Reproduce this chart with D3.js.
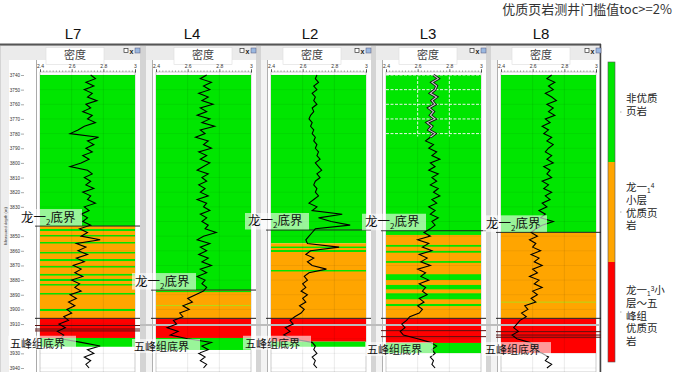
<!DOCTYPE html>
<html><head><meta charset="utf-8">
<script src="https://cdn.jsdelivr.net/npm/d3@7"></script>
<style>body{margin:0;background:#fff}svg{display:block}</style>
</head><body>
<svg id="c" width="676" height="372"></svg>
<script>
// ---------------- DATA ----------------
const titleText = "优质页岩测井门槛值toc>=2%";
const wells = ["L7", "L4", "L2", "L3", "L8"];
const curveName = "密度";
const depthTicks = d3.range(3740, 3941, 10);
const hiddenDepthLabels = [3840, 3920]; // covered by marker labels in the reference
const densityTicks = [2.4, 2.6, 2.8, 3.0];
const sampleDepths = d3.range(3740, 3940.01, 2.5);

const densL7 = [2.72,2.75,2.69,2.74,2.68,2.73,2.70,2.76,2.69,2.72,
  2.67,2.73,2.70,2.75,2.68,2.64,2.59,2.77,2.70,2.74,
  2.69,2.73,2.67,2.71,2.66,2.59,2.70,2.73,2.68,2.72,
  2.69,2.74,2.67,2.72,2.70,2.75,2.68,2.71,2.66,2.70,
  2.67,2.72,2.65,2.70,2.66,2.78,2.63,2.69,2.64,2.70,
  2.63,2.68,2.61,2.66,2.62,2.67,2.60,2.65,2.62,2.66,
  2.59,2.63,2.58,2.62,2.57,2.60,2.55,2.58,2.52,2.56,
  2.51,2.55,2.53,2.66,2.78,2.70,2.74,2.68,2.72,2.69,2.71];
const densL4 = [2.72,2.68,2.75,2.70,2.74,2.67,2.73,2.69,2.76,2.68,
  2.72,2.66,2.74,2.69,2.77,2.68,2.71,2.65,2.73,2.70,
  2.75,2.67,2.72,2.68,2.74,2.70,2.66,2.73,2.69,2.72,
  2.67,2.71,2.68,2.73,2.66,2.72,2.70,2.74,2.68,2.72,
  2.69,2.73,2.71,2.78,2.70,2.66,2.74,2.68,2.72,2.67,
  2.73,2.69,2.75,2.68,2.72,2.66,2.71,2.69,2.72,2.70,
  2.65,2.60,2.63,2.57,2.61,2.55,2.57,2.51,2.53,2.47,
  2.54,2.49,2.60,2.75,2.69,2.73,2.67,2.71,2.68,2.72,2.70];
const densL2 = [2.69,2.68,2.70,2.67,2.69,2.66,2.68,2.67,2.69,2.66,
  2.67,2.65,2.64,2.66,2.65,2.67,2.66,2.68,2.67,2.69,
  2.68,2.70,2.69,2.71,2.68,2.70,2.72,2.69,2.71,2.68,
  2.67,2.69,2.68,2.70,2.67,2.64,2.69,2.66,2.85,2.70,
  2.78,2.90,2.68,2.66,2.64,2.62,2.63,2.83,2.65,2.62,
  2.67,2.63,2.66,2.75,2.64,2.61,2.63,2.60,2.62,2.59,
  2.63,2.60,2.62,2.58,2.61,2.59,2.55,2.52,2.54,2.49,
  2.52,2.48,2.53,2.66,2.68,2.67,2.69,2.66,2.68,2.67,2.69];
const densL3 = [2.70,2.73,2.69,2.72,2.71,2.68,2.72,2.69,2.71,2.67,
  2.70,2.68,2.71,2.66,2.69,2.67,2.71,2.68,2.65,2.70,
  2.67,2.72,2.69,2.74,2.68,2.71,2.67,2.73,2.69,2.72,
  2.68,2.73,2.70,2.74,2.69,2.72,2.67,2.71,2.68,2.73,
  2.69,2.71,2.68,2.64,2.68,2.60,2.67,2.63,2.69,2.61,
  2.66,2.62,2.68,2.60,2.65,2.62,2.67,2.61,2.65,2.63,
  2.66,2.61,2.64,2.60,2.63,2.61,2.55,2.53,2.50,2.52,
  2.49,2.51,2.60,2.68,2.72,2.69,2.71,2.68,2.70,2.69,2.71];
const densL8 = [2.72,2.69,2.74,2.70,2.73,2.68,2.72,2.75,2.69,2.73,
  2.70,2.74,2.68,2.71,2.66,2.70,2.67,2.72,2.69,2.73,
  2.70,2.68,2.72,2.69,2.73,2.67,2.71,2.69,2.72,2.66,
  2.70,2.67,2.72,2.68,2.71,2.66,2.69,2.64,2.68,2.65,
  2.73,2.66,2.62,2.59,2.63,2.58,2.62,2.60,2.65,2.59,
  2.64,2.61,2.66,2.60,2.63,2.58,2.64,2.61,2.66,2.60,
  2.63,2.59,2.62,2.55,2.57,2.53,2.56,2.52,2.50,2.48,
  2.51,2.47,2.50,2.58,2.62,2.60,2.66,2.70,2.68,2.72,2.69];

// lithology intervals [top depth, bottom depth, class]
const bandsL7 = [[3740,3843.1,"g"],[3843.1,3906.1,"o"],
  [3845.1,3846.5,"g"],[3849.2,3850.2,"g"],[3854.0,3855.0,"g"],[3860.8,3861.8,"g"],[3865.6,3867.0,"g"],
  [3870.4,3871.4,"g"],[3875.8,3876.9,"g"],[3879.2,3880.6,"g"],[3882.7,3883.7,"g"],[3888.8,3889.8,"g"],[3899.7,3901.1,"g"],
  [3906.1,3919.5,"r"],[3919.5,3925.5,"g"]];
const bandsL4 = [[3740,3886.8,"g"],[3886.8,3906.1,"o"],[3887.2,3888.2,"g"],[3897.0,3897.7,"y"],
  [3906.1,3919.5,"r"],[3919.5,3927.7,"g"]];
const bandsL2 = [[3740,3854.9,"g"],[3854.9,3906.1,"o"],[3857.1,3858.1,"g"],[3859.5,3860.8,"g"],[3873.1,3874.1,"g"],
  [3906.1,3922.0,"r"],[3922.0,3925.5,"g"]];
const bandsL3 = [[3740,3849.2,"g"],[3849.2,3906.1,"o"],[3856.0,3857.2,"g"],[3860.1,3861.3,"g"],[3867.0,3868.2,"g"],
  [3876.0,3879.9,"g"],[3883.3,3886.3,"g"],[3889.0,3893.1,"g"],[3896.3,3897.7,"g"],
  [3906.1,3922.9,"r"],[3922.9,3929.8,"g"]];
const bandsL8 = [[3740,3847.4,"g"],[3847.4,3906.1,"o"],[3894.7,3895.3,"y"],[3906.1,3929.8,"r"]];

// boundary lines (depth)
const linesL7 = [3843.1, 3906.1, 3911.0, 3913.4, 3914.7];
const linesL4 = [3886.8, 3906.1];
const linesL2 = [3845.8, 3906.1];
const linesL3 = [3846.3, 3906.1, 3914.5, 3918.6];
const linesL8 = [3847.4, 3906.1, 3915.2, 3917.5, 3919.0];
const greyLineDepth = 3910.6;

// marker depths: 龙一2 base and 五峰组 base
const longBase = [3843.1, 3886.8, 3845.8, 3846.3, 3847.4];
const wufengBase = [3925.5, 3927.7, 3925.5, 3929.8, 3929.8];

const legendClasses = ["g", "o", "r"];
const legendLabels = [
  [[["非优质"]], [["页岩"]]],
  [[["龙一"], ["1","sub"], ["4","sup"]], [["小层"]], [["优质页"]], [["岩"]]],
  [[["龙一"], ["1","sub"], ["3","sup"], ["小"]], [["层～五"]], [["峰组"]], [["优质页"]], [["岩"]]]
];

// ---------------- LAYOUT / STYLE ----------------
const colors = {g:"#00e600", o:"#ffa500", r:"#ff0000", y:"#b5d916"};
const series = [densL7, densL4, densL2, densL3, densL8];
const bands = [bandsL7, bandsL4, bandsL2, bandsL3, bandsL8];
const lines = [linesL7, linesL4, linesL2, linesL3, linesL8];
const trackLeft = [40, 156, 271, 386, 501];
const trackW = 95;
const winR = [[1,140],[146,256],[261,371],[376,486],[491,599]];
const headerCX = [75, 203, 312, 428, 541];
const wellCX = [73, 192, 310, 428, 541];
const longDx = [-22, -24, -26, -24, -18];
const wufengDx = [-32, -24, -28, -21, -18];
const cjk = "'Noto Sans CJK SC','Noto Sans',sans-serif";
const legendFont = "'Liberation Sans','Noto Sans CJK SC',sans-serif";

const svg = d3.select("#c");
const y = d3.scaleLinear().domain([3740, 3940]).range([75, 368]);

// title
svg.append("text").attr("x", 672).attr("y", 14).attr("text-anchor", "end")
  .attr("font-size", 13).attr("font-family", cjk).attr("fill", "#333").text(titleText);

// well names
wells.forEach((w, i) => svg.append("text").attr("x", wellCX[i]).attr("y", 39)
  .attr("text-anchor", "middle").attr("font-size", 15)
  .attr("font-family", "'Liberation Sans Narrow','Liberation Sans',Arial,sans-serif")
  .attr("fill", "#111").text(w));

// frame background
svg.append("rect").attr("x", 0).attr("y", 44).attr("width", 601).attr("height", 328).attr("fill", "#d4d4d4");
svg.append("line").attr("x1", 0).attr("x2", 601).attr("y1", 44.5).attr("y2", 44.5).attr("stroke", "#555").attr("stroke-width", 2);
svg.append("line").attr("x1", 600.5).attr("x2", 600.5).attr("y1", 44).attr("y2", 372).attr("stroke", "#444").attr("stroke-width", 1.5);

const overlay = [];

wells.forEach((w, i) => {
  const g = svg.append("g");
  const L = trackLeft[i], R = L + trackW;
  const [wl, wr] = winR[i];
  const x = d3.scaleLinear().domain([2.4, 3.0]).range([L, R]);

  // window
  g.append("rect").attr("x", wl).attr("y", 46).attr("width", wr - wl).attr("height", 326).attr("fill", "#fff");
  g.append("rect").attr("x", wl).attr("y", 46).attr("width", wr - wl).attr("height", 14).attr("fill", "#ebebeb");
  // left strip (depth track)
  if (i === 0) {
    g.append("rect").attr("x", wl).attr("y", 60).attr("width", 8).attr("height", 312).attr("fill", "#eeeeee");
    g.append("line").attr("x1", 36.5).attr("x2", 36.5).attr("y1", 60).attr("y2", 372).attr("stroke", "#aaa");
  } else {
    g.append("rect").attr("x", wl).attr("y", 60).attr("width", L - 3 - wl).attr("height", 312).attr("fill", "#f3f3f3");
    g.append("line").attr("x1", L - 3.5).attr("x2", L - 3.5).attr("y1", 60).attr("y2", 372).attr("stroke", "#b0b0b0");
  }
  // header tab with curve name
  g.append("rect").attr("x", headerCX[i] - 29).attr("y", 47.5).attr("width", 58).attr("height", 17)
    .attr("fill", "#fff").attr("stroke", "#dcdcdc").attr("stroke-width", 0.6);
  g.append("text").attr("x", headerCX[i]).attr("y", 58.5).attr("text-anchor", "middle")
    .attr("font-size", 11).attr("font-family", cjk).attr("fill", "#444").text(curveName);
  // window icons
  const ix = R - 11;
  g.append("rect").attr("x", ix).attr("y", 48.5).attr("width", 4).attr("height", 4).attr("fill", "#fff").attr("stroke", "#333").attr("stroke-width", 0.7);
  g.append("text").attr("x", ix + 7.5).attr("y", 53.5).attr("text-anchor", "middle").attr("font-size", 7).attr("font-weight", "bold").attr("font-family", "sans-serif").attr("fill", "#222").text("x");
  g.append("rect").attr("x", ix + 11).attr("y", 48).attr("width", 5).attr("height", 5).attr("fill", "#9bb8e0").attr("stroke", "#557").attr("stroke-width", 0.5);

  // scale axis (top)
  const axMinor = d3.axisTop(x).tickValues(d3.range(2.4, 3.001, 0.02)).tickSize(1.5).tickFormat("");
  const am = g.append("g").attr("transform", "translate(0,72)").call(axMinor);
  am.select(".domain").attr("stroke", "#333").attr("stroke-width", 0.8);
  am.selectAll(".tick line").attr("stroke", "#333").attr("stroke-width", 0.5);
  const axMajor = d3.axisTop(x).tickValues(densityTicks).tickSize(3).tickPadding(1).tickFormat(d3.format("~g"));
  const aM = g.append("g").attr("transform", "translate(0,72)").call(axMajor);
  aM.select(".domain").remove();
  aM.selectAll(".tick line").attr("stroke", "#333").attr("stroke-width", 0.6);
  aM.selectAll(".tick text").attr("font-size", 5).attr("fill", "#333").attr("font-family", "sans-serif");

  // track border
  g.append("rect").attr("x", L).attr("y", 72).attr("width", trackW).attr("height", 300)
    .attr("fill", "#fff").attr("stroke", "#aaa").attr("stroke-width", 0.6);

  // lithology bands
  g.selectAll("rect.band").data(bands[i]).join("rect").attr("class", "band")
    .attr("x", L).attr("width", trackW)
    .attr("y", d => y(d[0])).attr("height", d => Math.max(1, y(d[1]) - y(d[0])))
    .attr("fill", d => colors[d[2]]);

  // grid
  g.selectAll("line.hg").data(depthTicks).join("line").attr("class", "hg")
    .attr("x1", L).attr("x2", R).attr("y1", d => y(d)).attr("y2", d => y(d))
    .attr("stroke", "rgba(0,0,0,0.10)").attr("stroke-width", 0.6);
  g.selectAll("line.vg").data([2.6, 2.8]).join("line").attr("class", "vg")
    .attr("x1", d => x(d)).attr("x2", d => x(d)).attr("y1", 72).attr("y2", 372)
    .attr("stroke", "rgba(0,0,0,0.14)").attr("stroke-width", 0.6);

  if (w === "L3") {
    const dg = g.append("g").attr("stroke", "#fff").attr("stroke-width", 0.9).attr("stroke-dasharray", "3,1.5");
    [3740, 3750, 3760, 3770, 3780].forEach(d => dg.append("line").attr("x1", L).attr("x2", R).attr("y1", y(d)).attr("y2", y(d)));
    [2.6, 2.8].forEach(v => dg.append("line").attr("x1", x(v)).attr("x2", x(v)).attr("y1", 72).attr("y2", y(3782)));
  }

  // grey line
  if (i > 0) {
    g.append("line").attr("x1", wl - 6).attr("x2", wr).attr("y1", y(greyLineDepth)).attr("y2", y(greyLineDepth))
      .attr("stroke", "#bdbdbd").attr("stroke-width", 2);
  }
  // boundary lines
  g.selectAll("line.bd").data(lines[i]).join("line").attr("class", "bd")
    .attr("x1", L - 5).attr("x2", R + 5).attr("y1", d => y(d)).attr("y2", d => y(d))
    .attr("stroke", (d, k) => k < 2 ? "#222" : "#5a1010").attr("stroke-width", 1);

  // curve
  const pts = d3.zip(sampleDepths, series[i]);
  const line = d3.line().x(d => x(d[1])).y(d => y(d[0]));
  if (w === "L3") {
    const top = pts.filter(d => d[0] <= 3782.5);
    const rest = pts.filter(d => d[0] >= 3782.5);
    g.append("path").attr("d", line(top)).attr("fill", "none").attr("stroke", "#111").attr("stroke-width", 2.8);
    g.append("path").attr("d", line(top)).attr("fill", "none").attr("stroke", "#c9c9c9").attr("stroke-width", 1.1);
    g.append("path").attr("d", line(rest)).attr("fill", "none").attr("stroke", "#000").attr("stroke-width", 1.1);
  } else {
    g.append("path").attr("d", line(pts)).attr("fill", "none").attr("stroke", "#000").attr("stroke-width", 1.1);
  }
  overlay.push({L, i});
});

// depth axis (first panel)
const da = svg.append("g").attr("transform", "translate(24,0)")
  .call(d3.axisLeft(y).tickValues(depthTicks).tickSize(3).tickPadding(1)
    .tickFormat(d => hiddenDepthLabels.includes(d) ? "" : d3.format("d")(d)));
da.select(".domain").remove();
da.selectAll(".tick line").attr("stroke", "#555").attr("stroke-width", 0.5);
da.selectAll(".tick text").attr("font-size", 4.6).attr("fill", "#333").attr("font-family", "sans-serif");
svg.append("text").attr("transform", "translate(6.5,226) rotate(-90)").attr("text-anchor", "middle")
  .attr("font-size", 4.2).attr("fill", "#333").attr("font-family", "sans-serif").text("Measured depth (m)");

// marker labels
overlay.forEach(({L, i}) => {
  const yb = y(longBase[i]);
  const bx = L + longDx[i];
  svg.append("rect").attr("x", bx).attr("y", yb - 17).attr("width", 64).attr("height", 16.5)
    .attr("fill", "#fff").attr("fill-opacity", 0.6);
  const t = svg.append("text").attr("x", bx + 3).attr("y", yb - 4.5)
    .attr("font-size", 12.5).attr("font-family", cjk).attr("fill", "#111");
  t.append("tspan").text("龙一");
  t.append("tspan").attr("font-size", 8).attr("dy", 3).text("2");
  t.append("tspan").attr("dy", -3).text("底界");

  const wb = y(wufengBase[i]);
  const wx = L + wufengDx[i];
  svg.append("rect").attr("x", wx).attr("y", wb - 11).attr("width", 68).attr("height", 14)
    .attr("fill", "#fff").attr("fill-opacity", 0.6);
  svg.append("text").attr("x", wx + 2).attr("y", wb + 1)
    .attr("font-size", 11).attr("font-family", cjk).attr("fill", "#111").text("五峰组底界");
});

// legend
const lg = svg.append("g");
const segH = 100, barX = 608, barY = 62;
legendClasses.forEach((c, k) => {
  lg.append("rect").attr("x", barX).attr("y", barY + k * segH).attr("width", 7).attr("height", segH)
    .attr("fill", colors[c]);
  lg.append("line").attr("x1", 620).attr("x2", 621.5).attr("y1", barY + k * segH + segH / 2).attr("y2", barY + k * segH + segH / 2)
    .attr("stroke", "#999").attr("stroke-width", 0.8);
});
lg.append("rect").attr("x", barX).attr("y", barY).attr("width", 7).attr("height", segH * 3)
  .attr("fill", "none").attr("stroke", "#555").attr("stroke-width", 0.6);
const firstBase = [102, 191, 294];
const lineH = 12.8;
legendLabels.forEach((rows, k) => {
  rows.forEach((row, r) => {
    const t = lg.append("text").attr("x", 626).attr("y", firstBase[k] + r * lineH)
      .attr("font-size", 10.5).attr("font-family", legendFont).attr("fill", "#222");
    let shift = 0;
    row.forEach(seg => {
      const sp = t.append("tspan").text(seg[0]);
      let target = 0;
      if (seg[1] === "sub") { target = 1.5; sp.attr("font-size", 6.5); }
      else if (seg[1] === "sup") { target = -3.5; sp.attr("font-size", 6.5); }
      if (target !== shift) { sp.attr("dy", target - shift); shift = target; }
    });
  });
});
</script>
</body></html>
